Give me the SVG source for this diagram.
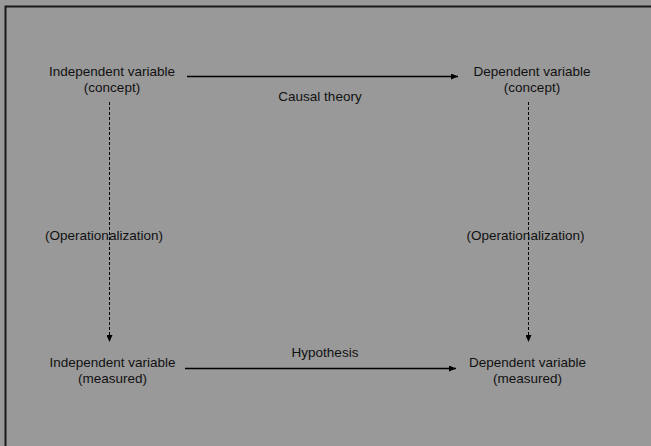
<svg xmlns="http://www.w3.org/2000/svg" width="651" height="446" viewBox="0 0 651 446">
<style>
text{font-family:"Liberation Sans",Arial,sans-serif;font-size:13.5px;fill:#111;text-anchor:middle}
.solid{stroke:#000;stroke-width:1.3;fill:none}
.dash{stroke:#000;stroke-width:1;stroke-dasharray:3,2;fill:none}
</style>
<defs>
<marker id="ah" markerWidth="8" markerHeight="6" refX="7" refY="3" orient="auto" markerUnits="userSpaceOnUse">
<path d="M0,0 L7,3 L0,6 Z" fill="#000"/>
</marker>
</defs>
<rect x="0" y="0" width="651" height="446" fill="#999999"/>
<rect x="5.5" y="6.5" width="700" height="500" fill="none" stroke="#1a1a1a" stroke-width="2"/>
<g id="connectors">
<line class="solid" x1="187" y1="76.5" x2="458" y2="76.5" marker-end="url(#ah)"/>
<line class="solid" x1="185" y1="368.5" x2="456" y2="368.5" marker-end="url(#ah)"/>
<line class="dash" x1="109.5" y1="102" x2="109.5" y2="342" marker-end="url(#ah)"/>
<line class="dash" x1="528.5" y1="102" x2="528.5" y2="342" marker-end="url(#ah)"/>
</g>
<g id="iv-concept"><text x="112" y="76">Independent variable</text><text x="112" y="92">(concept)</text></g>
<g id="dv-concept"><text x="532" y="76">Dependent variable</text><text x="532" y="92">(concept)</text></g>
<g id="iv-measured"><text x="112.5" y="367">Independent variable</text><text x="112.5" y="383">(measured)</text></g>
<g id="dv-measured"><text x="527.5" y="367">Dependent variable</text><text x="527.5" y="383">(measured)</text></g>
<g id="labels">
<text x="320" y="101">Causal theory</text>
<text x="325" y="357">Hypothesis</text>
<text x="104" y="240">(Operationalization)</text>
<text x="525.5" y="240">(Operationalization)</text>
</g>
</svg>
